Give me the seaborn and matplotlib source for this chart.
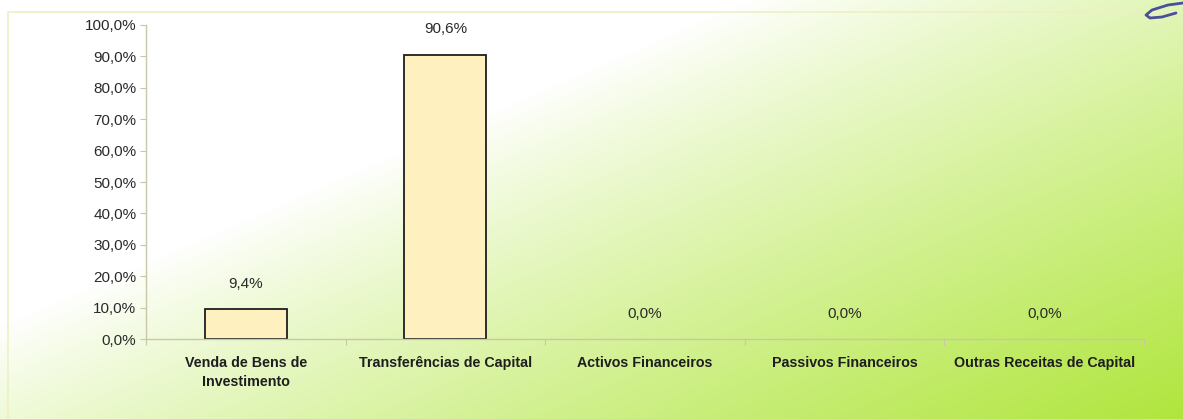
import numpy as np
import pandas as pd
import matplotlib
matplotlib.use("Agg")
import matplotlib.pyplot as plt
from matplotlib.ticker import FixedLocator, FuncFormatter
import seaborn as sns

categories = [
    "Venda de Bens de\nInvestimento",
    "Transferências de Capital",
    "Activos Financeiros",
    "Passivos Financeiros",
    "Outras Receitas de Capital",
]
shares = [9.4, 90.6, 0.0, 0.0, 0.0]
y_ticks = [0, 10, 20, 30, 40, 50, 60, 70, 80, 90, 100]

sns.set_theme(style="white")
plt.rcParams["font.family"] = ["Liberation Sans", "DejaVu Sans"]

W, H = 1183, 419
fig = plt.figure(figsize=(W / 100, H / 100), dpi=100)

# diagonal white-to-lime background wash
bg = fig.add_axes([0, 0, 1, 1], zorder=-10)
xx, yy = np.meshgrid(np.arange(W), np.arange(H))
t = (xx + 2.3 * yy - 750.0) / (W + 2.3 * H - 750.0)
t = np.clip(t, 0, 1) ** 0.85
white = np.array([1.0, 1.0, 1.0])
lime = np.array([0.69, 0.90, 0.24])
img = white[None, None, :] * (1 - t[..., None]) + lime[None, None, :] * t[..., None]
bg.imshow(img, aspect="auto", extent=[0, W, H, 0])
bg.set_axis_off()

# faint chart-area frame
frame = plt.Rectangle((8 / W, -0.01), 1.2, 1 - 12 / H + 0.01, transform=fig.transFigure,
                      fill=False, edgecolor="#eef0c4", linewidth=1.2, zorder=-5)
fig.patches.append(frame)

ax = fig.add_axes([146 / W, 1 - 339 / H, (1144 - 146) / W, (339 - 25) / H])
ax.patch.set_alpha(0)

df = pd.DataFrame({"cat": categories, "share": shares})
sns.barplot(data=df, x="cat", y="share", ax=ax, color="#fff0c0",
            edgecolor="#1e1e1e", linewidth=1.3, width=0.41, saturation=1)

# empty bars leave no outline on the axis
for patch, v in zip(ax.containers[0], shares):
    if v == 0:
        patch.set_linewidth(0)

labels = [f"{v:.1f}%".replace(".", ",") for v in shares]
ax.bar_label(ax.containers[0], labels=labels, padding=13, fontsize=11,
             color="#2a2a2a")

ax.set_ylim(0, 100)
ax.set_xlim(-0.5, len(categories) - 0.5)
ax.yaxis.set_major_locator(FixedLocator(y_ticks))
ax.yaxis.set_major_formatter(FuncFormatter(lambda v, p: f"{v:.1f}%".replace(".", ",")))
ax.set_xlabel("")
ax.set_ylabel("")

ax.tick_params(axis="y", labelsize=11, colors="#c8c8a8", labelcolor="#2a2a2a",
               length=4, width=0.8, left=True, pad=3)
ax.tick_params(axis="x", which="major", length=0, labelsize=10.3,
               labelcolor="#1e1e1e", pad=12)
for lbl in ax.get_xticklabels():
    lbl.set_fontweight("bold")
    lbl.set_linespacing(1.45)
ax.xaxis.set_minor_locator(FixedLocator(np.arange(-0.5, len(categories), 1.0)))
ax.tick_params(axis="x", which="minor", bottom=True, length=4, width=0.8,
               color="#c8c8a8")

for side in ["top", "right"]:
    ax.spines[side].set_visible(False)
for side in ["left", "bottom"]:
    ax.spines[side].set_color("#c8c8a8")
    ax.spines[side].set_linewidth(1.0)

# ink stroke in the top-right corner
sx = np.array([1183, 1168, 1152, 1146, 1150, 1162, 1176])
sy = np.array([3, 5, 10, 15, 18, 17, 13])
fig.add_artist(plt.Line2D(sx / W, 1 - sy / H, color="#4a4f9a", linewidth=2.0,
                          solid_capstyle="round", transform=fig.transFigure))

fig.savefig("out.png", dpi=100)
